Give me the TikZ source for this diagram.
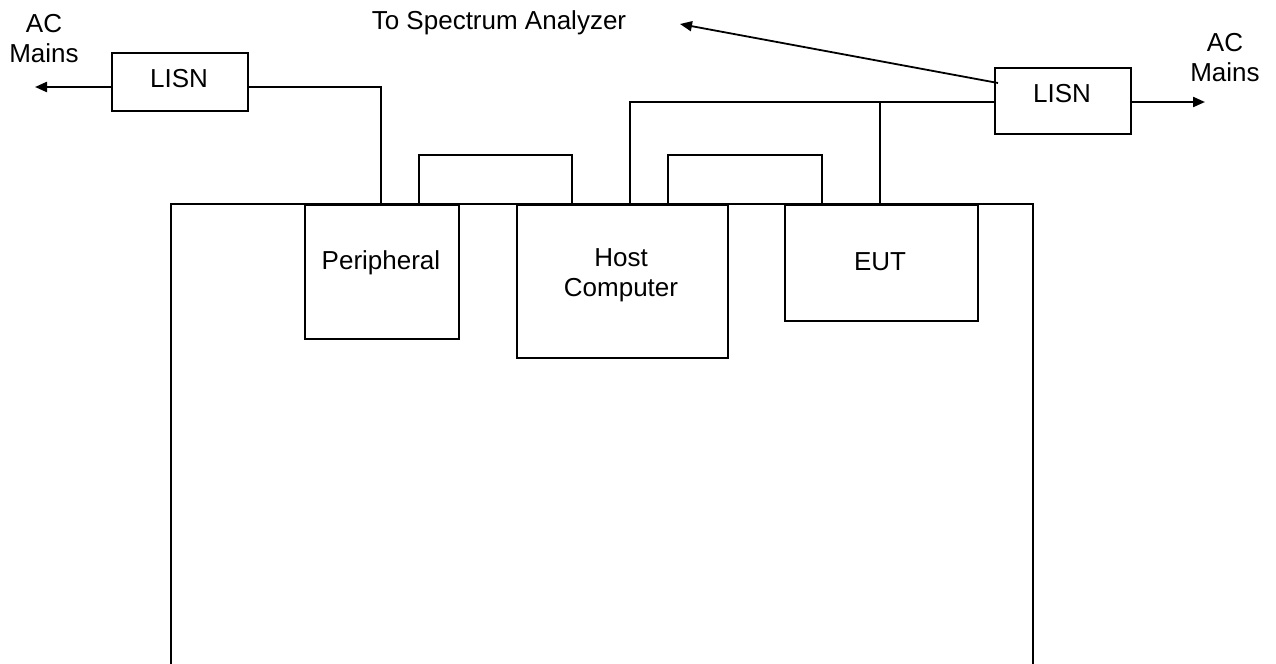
\documentclass[tikz,border=0pt]{standalone}
\usepackage{fontspec}
\setmainfont{Liberation Sans}
\usetikzlibrary{arrows.meta,calc}
\begin{document}
\begin{tikzpicture}[x=0.5pt,y=-0.5pt,
  box/.style={draw, line width=1.1pt, inner sep=0pt, anchor=north west},
  lbl/.style={inner sep=0pt, anchor=base, font=\fontsize{13}{15}\selectfont},
  mlbl/.style={inner sep=0pt, anchor=center, align=center, font=\fontsize{13}{15}\selectfont},
  wire/.style={line width=1.1pt},
  arr/.style={line width=1.1pt, -{Triangle[length=6pt,width=5pt]}},
  thinarr/.style={line width=0.9pt, -{Triangle[length=6pt,width=5pt]}}]
\useasboundingbox (0,0) rectangle (1276,664);

% boxes
\node[box, minimum width=68pt, minimum height=29pt] (lisnL) at (111,52) {};
\node[box, minimum width=68pt, minimum height=33pt] (lisnR) at (994,67) {};
\node[box, minimum width=77pt, minimum height=67pt] (periph) at (304,204) {};
\node[box, minimum width=105.5pt, minimum height=76.5pt] (host) at (516,204) {};
\node[box, minimum width=96.5pt, minimum height=58pt] (eut) at (784,204) {};

% table / enclosure (open at the bottom)
\draw[wire] (171,664) -- (171,204) -- (1033,204) -- (1033,664);

% helper coordinates
\coordinate (yL) at (0,87);
\coordinate (yR) at (0,102);
\coordinate (acL) at (35,87);
\coordinate (acR) at (1205,102);
\coordinate (saStart) at (998,83);
\coordinate (saEnd) at (680,24);

% left LISN wiring
\draw[arr] (lisnL.west |- yL) -- (acL);
\draw[wire] (lisnL.east |- yL) -- (381,87) -- (381,204);

% peripheral to host loop
\draw[wire] (419,204) -- (419,155) -- (572,155) -- (572,204);

% host / EUT power to right LISN
\draw[wire] (630,204) -- (630,102) -- (lisnR.west |- yR);
\draw[wire] (880,102) -- (880,204);

% host to EUT loop
\draw[wire] (668,204) -- (668,155) -- (822,155) -- (822,204);

% right LISN to mains
\draw[arr] (lisnR.east |- yR) -- (acR);

% to spectrum analyzer
\draw[thinarr] (saStart) -- (saEnd);

% labels
\node[mlbl] (acLtxt) at (44,39) {AC\\Mains};
\node[mlbl] (acRtxt) at (1225,58) {AC\\Mains};
\node[lbl] (satxt) at (499,29) {To Spectrum Analyzer};
\node[lbl] (lisnLtxt) at (179,87) {LISN};
\node[lbl] (lisnRtxt) at (1062,102) {LISN};
\node[lbl] (periphtxt) at (381,269) {Peripheral};
\node[mlbl] (hosttxt) at (621,275) {Host\\Computer};
\node[lbl] (euttxt) at (880,270) {EUT};
\end{tikzpicture}
\end{document}
